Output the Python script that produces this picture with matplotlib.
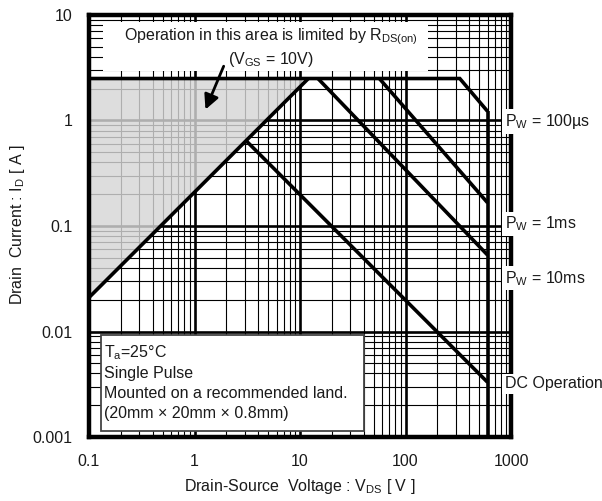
import matplotlib
matplotlib.use('Agg')
import matplotlib.pyplot as plt
from matplotlib.ticker import LogLocator, NullFormatter
from matplotlib.patches import Rectangle

plt.rcParams['font.family'] = ['Liberation Sans', 'DejaVu Sans']
plt.rcParams['mathtext.fontset'] = 'custom'
plt.rcParams['mathtext.rm'] = 'Liberation Sans'
plt.rcParams['mathtext.it'] = 'Liberation Sans:italic'
plt.rcParams['mathtext.default'] = 'rm'

# data
rds_v = [0.1, 12.0]
rds_i = [0.021, 2.5]
pw100us_v = [0.1, 327, 600]
pw100us_i = [2.5, 2.5, 1.22]
pw1ms_v = [56.5, 600]
pw1ms_i = [2.5, 0.166]
pw10ms_v = [14.8, 600]
pw10ms_i = [2.5, 0.053]
dc_v = [3.1, 600]
dc_i = [0.64, 0.0033]
vdss_v = [600, 600]
vdss_i = [1.22, 0.001]
shade_v = [0.1, 12.0, 0.1]
shade_i = [0.021, 2.5, 2.5]

xticks = [0.1, 1, 10, 100, 1000]
xtick_labels = ['0.1', '1', '10', '100', '1000']
yticks = [0.001, 0.01, 0.1, 1, 10]
ytick_labels = ['0.001', '0.01', '0.1', '1', '10']

curve_labels = ['P$_{\\mathrm{W}}$ = 100µs', 'P$_{\\mathrm{W}}$ = 1ms',
                'P$_{\\mathrm{W}}$ = 10ms', 'DC Operation']
curve_label_y = [0.98, 0.105, 0.032, 0.00318]

txt = '#1a1a1a'
fs = 11.5

fig = plt.figure(figsize=(6.02, 5.01), dpi=100)
ax = fig.add_axes([89/602, 64/501, 422/602, 422/501])
ax.set_xscale('log')
ax.set_yscale('log')
ax.set_xlim(0.1, 1000)
ax.set_ylim(0.001, 10)

ax.xaxis.set_minor_locator(LogLocator(base=10, subs=range(2, 10)))
ax.yaxis.set_minor_locator(LogLocator(base=10, subs=range(2, 10)))
ax.xaxis.set_minor_formatter(NullFormatter())
ax.yaxis.set_minor_formatter(NullFormatter())
ax.set_xticks(xticks, labels=xtick_labels)
ax.set_yticks(yticks, labels=ytick_labels)
ax.tick_params(which='both', length=0, labelsize=fs, labelcolor=txt)
ax.tick_params(axis='x', pad=12)
ax.tick_params(axis='y', pad=12)
ax.set_axisbelow(True)
ax.grid(which='major', color='black', lw=1.9)
ax.grid(which='minor', color='black', lw=0.8)
for s in ax.spines.values():
    s.set_linewidth(3.2)
    s.set_zorder(4)

ax.fill(shade_v, shade_i, color='#d6d6d6', alpha=0.82, lw=0, zorder=1)

lw = 2.6
for v, i in [(rds_v, rds_i), (pw100us_v, pw100us_i), (pw1ms_v, pw1ms_i),
             (pw10ms_v, pw10ms_i), (dc_v, dc_i), (vdss_v, vdss_i)]:
    ax.plot(v, i, color='black', lw=lw, solid_capstyle='butt',
            solid_joinstyle='miter', zorder=3)

# white area behind the top note
ax.add_patch(Rectangle((0.136, 2.93), 165 - 0.136, 8.58 - 2.93,
                       facecolor='white', edgecolor='none', zorder=2.5))
ax.text(5.3, 6.17, 'Operation in this area is limited by R$_{\\mathrm{DS(on)}}$',
        ha='center', va='center', fontsize=fs, color=txt, zorder=5)
ax.text(5.3, 3.81, '(V$_{\\mathrm{GS}}$ = 10V)', ha='center', va='center',
        fontsize=fs, color=txt, zorder=5)
ax.annotate('', xy=(1.27, 1.27), xytext=(1.89, 3.27),
            arrowprops=dict(arrowstyle='-|>', lw=2, color='black',
                            mutation_scale=22, shrinkA=0, shrinkB=0),
            zorder=5)

# condition box
ax.add_patch(Rectangle((0.13, 0.00114), 40.7 - 0.13, 0.00936 - 0.00114,
                       facecolor='white', edgecolor='#444444', lw=1.3,
                       zorder=3.5))
box_lines = ['T$_{\\mathrm{a}}$=25°C', 'Single Pulse',
             'Mounted on a recommended land.', '(20mm × 20mm × 0.8mm)']
box_y = [0.0063, 0.00398, 0.00257, 0.00166]
for t, y in zip(box_lines, box_y):
    ax.text(0.139, y, t, ha='left', va='center', fontsize=fs, color=txt,
            zorder=5)

for t, y in zip(curve_labels, curve_label_y):
    ax.text(877, y, t, ha='left', va='center', fontsize=fs, color=txt,
            zorder=6, clip_on=False,
            bbox=dict(facecolor='white', edgecolor='none', pad=2))

fig.text(300/602, 1 - 487/501, 'Drain-Source  Voltage : V$_{\\mathrm{DS}}$ [ V ]',
         ha='center', va='center', fontsize=fs, color=txt)
fig.text(18/602, 1 - 225/501, 'Drain  Current : I$_{\\mathrm{D}}$ [ A ]',
         ha='center', va='center', rotation=90, fontsize=fs, color=txt)

fig.savefig('out.png', dpi=100)
plt.close(fig)
